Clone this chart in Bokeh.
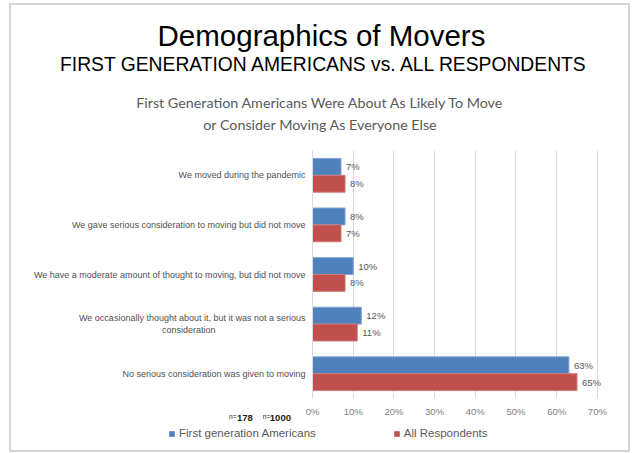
from bokeh.plotting import figure
from bokeh.layouts import column
from bokeh.models import (FactorRange, Range1d, ColumnDataSource, Legend, LegendItem,
                          NumeralTickFormatter, FixedTicker)
from bokeh.transform import dodge
from bokeh.core.properties import value
from bokeh.embed import file_html
from bokeh.resources import INLINE

# ---------------- data ----------------
categories = [
    "We moved during the pandemic",
    "We gave serious consideration to moving but did not move",
    "We have a moderate amount of thought to moving, but did not move",
    "We occasionally thought about it, but it was not a serious\nconsideration",
    "No serious consideration was given to moving",
]
first_gen = [0.07, 0.08, 0.10, 0.12, 0.63]
all_resp = [0.08, 0.07, 0.08, 0.11, 0.65]
first_gen_labels = ["7%", "8%", "10%", "12%", "63%"]
all_resp_labels = ["8%", "7%", "8%", "11%", "65%"]
x_ticks = [0, 0.1, 0.2, 0.3, 0.4, 0.5, 0.6, 0.7]
series_names = ["First generation Americans", "All Respondents"]
sample_sizes = ["178", "1000"]
title_main = "Demographics of Movers"
title_sub = "FIRST GENERATION AMERICANS vs. ALL RESPONDENTS"
chart_title = ["First Generation Americans Were About As Likely To Move",
               "or Consider Moving As Everyone Else"]

BLUE = "#4F81BD"
RED = "#C0504D"
FONT = "Liberation Sans"
W = 621

# display label for the two-line category (second line centred under the first)
display_cats = list(categories)
display_cats[3] = categories[3] + "\u00a0" * 36

# ---------------- header ----------------
HA = 140
fa = figure(width=W, height=HA, output_backend="svg", toolbar_location=None,
            x_range=Range1d(0, W), y_range=Range1d(HA, 0),
            x_axis_type=None, y_axis_type=None, min_border=0, frame_align=False)
fa.outline_line_color = None
fa.grid.visible = False
fa.text(x=[312], y=[30], text=[title_main], text_font=value(FONT), text_font_size="29.5px",
        text_align="center", text_baseline="alphabetic", text_color="black")
fa.text(x=[315], y=[59], text=[title_sub], text_font=value(FONT), text_font_size="19.3px",
        text_align="center", text_baseline="alphabetic", text_color="black")
fa.text(x=[311, 311], y=[97, 119], text=chart_title, text_font=value("Lato"),
        text_font_size="14.3px", text_align="center", text_baseline="alphabetic",
        text_color="#595959")

# ---------------- main chart ----------------
src = ColumnDataSource(dict(cat=display_cats, fg=first_gen, ar=all_resp,
                            fgl=first_gen_labels, arl=all_resp_labels))

HB = 274
p = figure(width=W, height=HB, output_backend="svg", toolbar_location=None,
           y_range=FactorRange(factors=list(reversed(display_cats)), range_padding=0),
           x_range=Range1d(0, 0.72), frame_align=False,
           min_border_left=301, min_border_right=23, min_border_top=5, min_border_bottom=19)
p.outline_line_color = None

p.hbar(y=dodge("cat", 0.17, range=p.y_range), right="fg", left=0, height=0.34,
       source=src, fill_color=BLUE, line_color="#7fa3d3", line_width=1)
p.hbar(y=dodge("cat", -0.17, range=p.y_range), right="ar", left=0, height=0.34,
       source=src, fill_color=RED, line_color="#d07a77", line_width=1)

p.text(x="fg", y=dodge("cat", 0.17, range=p.y_range), text="fgl", source=src,
       x_offset=5, text_baseline="middle", text_font=value(FONT),
       text_font_size="9.5px", text_color="#595959")
p.text(x="ar", y=dodge("cat", -0.17, range=p.y_range), text="arl", source=src,
       x_offset=5, text_baseline="middle", text_font=value(FONT),
       text_font_size="9.5px", text_color="#595959")

p.xaxis.ticker = FixedTicker(ticks=x_ticks)
p.xaxis.formatter = NumeralTickFormatter(format="0%")
p.xaxis.axis_line_color = None
p.xaxis.major_tick_line_color = None
p.xaxis.minor_tick_line_color = None
p.xaxis.major_tick_out = 0
p.xaxis.major_label_text_font = FONT
p.xaxis.major_label_text_font_size = "9.5px"
p.xaxis.major_label_text_color = "#808080"
p.xaxis.major_label_standoff = 7

p.yaxis.axis_line_color = "#d9d9d9"
p.yaxis.major_tick_line_color = None
p.yaxis.minor_tick_line_color = None
p.yaxis.major_tick_out = 0
p.yaxis.major_label_text_font = FONT
p.yaxis.major_label_text_font_size = "9px"
p.yaxis.major_label_text_color = "#505050"
p.yaxis.major_label_standoff = 7

p.xgrid.grid_line_color = "#d9d9d9"
p.ygrid.grid_line_color = None

# ---------------- footer: sample sizes + legend ----------------
HC = 41
fc = figure(width=W, height=HC, output_backend="svg", toolbar_location=None,
            x_range=Range1d(0, W), y_range=Range1d(HC, 0),
            x_axis_type=None, y_axis_type=None, min_border=0, frame_align=False)
fc.margin = (-10, 0, 0, 0)
fc.outline_line_color = None
fc.background_fill_color = None
fc.border_fill_color = None
fc.grid.visible = False
fc.text(x=[219, 253], y=[7, 7], text=["n=", "n="], text_font=value(FONT),
        text_font_size="6.5px", text_baseline="alphabetic", text_color="#222222")
fc.text(x=[227, 260], y=[8, 8], text=sample_sizes, text_font=value(FONT),
        text_font_size="9.5px", text_font_style="bold", text_baseline="alphabetic",
        text_color="#222222")

# legend proxies (kept outside the visible range; only their swatches are shown)
proxy = ColumnDataSource(dict(y=[-100], right=[0]))
lr1 = fc.hbar(y="y", right="right", height=1, source=proxy, fill_color=BLUE, line_color=None)
lr2 = fc.hbar(y="y", right="right", height=1, source=proxy, fill_color=RED, line_color=None)
legend = Legend(items=[LegendItem(label=series_names[0], renderers=[lr1]),
                       LegendItem(label=series_names[1], renderers=[lr2])],
                orientation="horizontal", location=(157, 10),
                label_text_font=FONT, label_text_font_size="11.5px",
                label_text_color="#595959", glyph_width=7, glyph_height=7,
                spacing=77, padding=2, margin=0, border_line_color=None,
                background_fill_alpha=0, label_standoff=4, label_height=14)
fc.add_layout(legend, "center")

layout = column(fa, p, fc, spacing=0)
layout.styles = {"border": "2px solid #d3d4db", "margin-left": "9px", "margin-top": "3px",
                 "width": "621px"}

open("out.html", "w").write(file_html(layout, INLINE))
